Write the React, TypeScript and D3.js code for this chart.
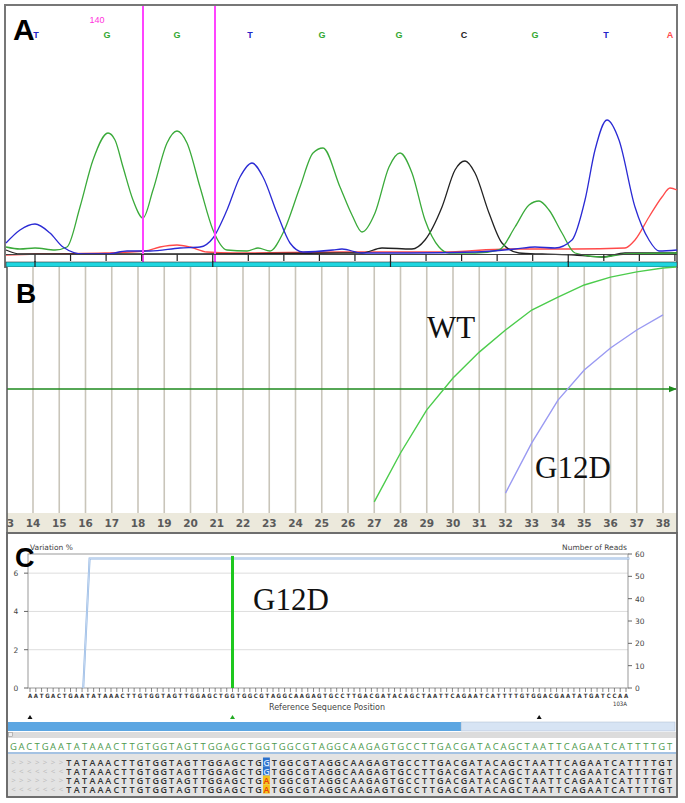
import * as d3 from "d3";

// ---------- panel A: Sanger chromatogram, [scan, signal]
const traceG: [number, number][] = [
  [0, 6], [14, 4], [29, 5], [49, 3], [61, 6], [74, 46], [87, 93], [102, 120], [109, 113],
  [117, 86], [127, 53], [137, 35], [147, 63], [161, 110], [171, 122], [181, 110], [194, 66],
  [207, 23], [221, 3], [241, 2], [252, 5], [264, 2], [277, 20], [294, 66], [307, 100],
  [317, 105], [334, 66], [346, 38], [356, 21], [369, 40], [383, 86], [394, 100], [406, 80],
  [419, 33], [433, 6], [443, 0], [469, 0], [493, 3], [509, 26], [523, 48], [533, 52],
  [543, 43], [556, 20], [569, 0], [596, -4], [619, -1], [671, 0],
];
const traceT: [number, number][] = [
  [0, 10], [14, 23], [29, 29], [44, 20], [57, 6], [77, -1], [101, -1], [121, 2], [144, 2],
  [174, 5], [194, 6], [207, 15], [221, 43], [234, 76], [246, 90], [257, 76], [271, 40],
  [284, 10], [297, 1], [327, 3], [336, 4], [356, 0], [403, 0], [469, 1], [509, 4], [529, 6],
  [549, 5], [566, 13], [579, 53], [589, 103], [601, 133], [613, 113], [629, 46], [643, 13],
  [653, 2], [671, 3],
];
const traceC: [number, number][] = [
  [0, 3], [14, -1], [194, -1], [336, 0], [356, 0], [376, 5], [406, 4], [419, 13], [436, 46],
  [449, 83], [459, 92], [469, 80], [483, 40], [496, 10], [513, 0], [536, -1], [569, -2],
  [596, -4], [619, 0], [671, 0],
];
const traceA: [number, number][] = [
  [0, -2], [32, -1], [99, 0], [139, 2], [154, 6], [171, 8], [184, 6], [201, 1], [227, 0],
  [336, 1], [436, 1], [503, 4], [569, 4], [619, 5], [629, 13], [643, 36], [656, 56],
  [664, 65], [671, 63],
];
const baseCalls = ["T", "G", "G", "T", "G", "G", "C", "G", "T", "A"];
const baseScans = [30, 101, 171, 244, 316, 393, 458, 529, 600, 664];
const markerScans = [137, 209];
const markerLabel = "140";

// ---------- panel B: real-time PCR amplification
const cycleLabels = [13, 14, 15, 16, 17, 18, 19, 20, 21, 22, 23, 24, 25, 26, 27, 28, 29, 30, 31, 32, 33, 34, 35, 36, 37, 38];
const wtCycles = [27, 28, 29, 30, 31, 32, 33, 34, 35, 36, 37, 38, 38.5];
const wtValues = [4.5, 24.4, 41.9, 54.9, 65.4, 74.4, 82.5, 87.8, 92.7, 95.9, 98.0, 99.6, 100];
const mutCycles = [32, 33, 34, 35, 36, 37, 38];
const mutValues = [8.1, 28.5, 45.9, 58.1, 67.1, 74.4, 80.5];
const threshold = 50.4;

// ---------- panel C: NGS variant view
const refSeq = "AATGACTGAATATAAACTTGTGGTAGTTGGAGCTGGTGGCGTAGGCAAGAGTGCCTTGACGATACAGCTAATTCAGAATCATTTTGTGGACGAATATGATCCAA";
const leftTicks = [0, 2, 4, 6];
const rightTicks = [0, 10, 20, 30, 40, 50, 60];
const readsPos = [9.2, 10.3, 103.6];
const readsVal = [0, 58, 58];
const variantPos = 35;
const variantPct = 6.9;
const markerPos = [0, 35, 88];
const markerCols = ["#111", "#2a2", "#111"];
const overviewSplit = 74.5;
const alignRef = "GACTGAATATAAACTTGTGGTAGTTGGAGCTGGTGGCGTAGGCAAGAGTGCCTTGACGATACAGCTAATTCAGAATCATTTTGT";
const readStart = 7;
const readStrands = [">", "<", ">", "<"];
const readCalls = ["G", "G", "A", "A"];
const mutIndex = 32;

const baseColor: Record<string, string> = { G: "#33a833", T: "#2323c8", C: "#222", A: "#ff4a4a" };

export default function App() {
  // A
  const xA = d3.scaleLinear().domain([0, 671]).range([6, 677]);
  const yA = d3.scaleLinear().domain([0, 240]).range([253, 13]);
  const lineA = d3.line<[number, number]>().x(d => xA(d[0])).y(d => yA(d[1])).curve(d3.curveMonotoneX);
  const tickScans = d3.range(0, 19).map(k => 29 + k * 35.55);

  // B
  const xB = d3.scaleLinear().domain([13, 38]).range([6.75, 663]);
  const yB = d3.scaleLinear().domain([0, 100]).range([513, 267]);
  const lineB = d3.line<number>().x((_, i) => xB(wtCycles[i])).y(d => yB(d));
  const lineM = d3.line<number>().x((_, i) => xB(mutCycles[i])).y(d => yB(d));

  // C
  const xC = d3.scaleLinear().domain([0, 103]).range([30, 626]);
  const yL = d3.scaleLinear().domain([0, 7]).range([688, 554]);
  const yR = d3.scaleLinear().domain([0, 60]).range([688, 554]);
  const lineR = d3.line<number>().x((_, i) => xC(readsPos[i])).y(d => yR(d));
  const xR = d3.scaleLinear().domain([0, 83]).range([13.5, 669.5]);
  const rowY = [762, 771, 780, 789];
  const colW = xR(1) - xR(0);

  const sans = "'Liberation Sans', Arial, sans-serif";
  const narrow = "'Liberation Sans Narrow', 'DejaVu Sans Condensed', sans-serif";
  const dv = "'DejaVu Sans', sans-serif";
  const os = "'Open Sans', 'DejaVu Sans', sans-serif";
  const serif = "'Liberation Serif', 'Times New Roman', serif";

  return (
    <svg width={685} height={803} style={{ position: "absolute", left: 0, top: 0, background: "#fff" }}>
      <defs>
        <clipPath id="clipB"><rect x={7} y={266} width={670} height={268} /></clipPath>
        <marker id="arr" viewBox="0 0 10 10" refX={9} refY={5} markerWidth={5} markerHeight={5} orient="auto">
          <path d="M0,1 L10,5 L0,9 Z" fill="#1e8a1e" />
        </marker>
      </defs>

      {/* ===== Panel A ===== */}
      <rect x={5} y={5} width={672} height={262} fill="#fff" stroke="#777" strokeWidth={2} />
      {baseCalls.map((b, i) => (
        <text key={"b" + i} x={xA(baseScans[i])} y={38} textAnchor="middle" fontFamily={sans}
          fontWeight="bold" fontSize={9} fill={baseColor[b]}>{b}</text>
      ))}
      <text x={97} y={23} textAnchor="middle" fontFamily={sans} fontSize={9} fill="#ff33dd">{markerLabel}</text>
      <path d={lineA(traceA) || ""} fill="none" stroke="#ff4a4a" strokeWidth={1.3} />
      <path d={lineA(traceC) || ""} fill="none" stroke="#222" strokeWidth={1.3} />
      <path d={lineA(traceG) || ""} fill="none" stroke="#3aaa3a" strokeWidth={1.3} />
      <path d={lineA(traceT) || ""} fill="none" stroke="#2a2ad4" strokeWidth={1.3} />
      {markerScans.map((s, i) => (
        <line key={"m" + i} x1={xA(s)} x2={xA(s)} y1={6} y2={262} stroke="#ff44ff" strokeWidth={2} />
      ))}
      <line x1={6} x2={677} y1={254.5} y2={254.5} stroke="#444" strokeWidth={1} />
      {tickScans.map((s, k) => (
        <line key={"t" + k} x1={xA(s)} x2={xA(s)} y1={254.5} y2={k % 5 === 0 ? 267 : 261}
          stroke="#222" strokeWidth={1.2} />
      ))}
      <rect x={6} y={262} width={671} height={5} fill="#1fd6e0" stroke="#333" strokeWidth={0.6} />
      {tickScans.filter((_, k) => k % 5 === 0).map((s, k) => (
        <line key={"tl" + k} x1={xA(s)} x2={xA(s)} y1={261} y2={267} stroke="#222" strokeWidth={1.2} />
      ))}
      <text x={13} y={40} fontFamily={sans} fontWeight="bold" fontSize={30} fill="#000">A</text>

      {/* ===== Panel B ===== */}
      <rect x={7} y={267} width={670} height={246} fill="#fff" />
      <g clipPath="url(#clipB)">
        {cycleLabels.slice(1).map(c => (
          <line key={"g" + c} x1={xB(c)} x2={xB(c)} y1={267} y2={513} stroke="#c9c5ba" strokeWidth={1.6} />
        ))}
        <rect x={7} y={513} width={670} height={19} fill="#ece9dc" />
        {cycleLabels.map(c => (
          <text key={"c" + c} x={xB(c)} y={527} textAnchor="middle" fontFamily={dv} fontWeight="bold"
            fontSize={10.5} fill="#5a5a5a">{c}</text>
        ))}
      </g>
      <line x1={7} x2={676} y1={yB(threshold)} y2={yB(threshold)} stroke="#1e8a1e" strokeWidth={1.6} markerEnd="url(#arr)" />
      <path d={lineB(wtValues) || ""} fill="none" stroke="#4ccc4c" strokeWidth={1.4} clipPath="url(#clipB)" />
      <path d={lineM(mutValues) || ""} fill="none" stroke="#9a9af2" strokeWidth={1.4} />
      <text x={427} y={338} fontFamily={serif} fontSize={31} fill="#111">WT</text>
      <text x={535} y={478} fontFamily={serif} fontSize={31} fill="#111">G12D</text>
      <line x1={7} x2={7} y1={267} y2={533} stroke="#555" strokeWidth={1.5} />
      <line x1={677} x2={677} y1={267} y2={533} stroke="#555" strokeWidth={1.5} />
      <text x={16} y={303} fontFamily={sans} fontWeight="bold" fontSize={28} fill="#000">B</text>

      {/* ===== Panel C ===== */}
      <rect x={7} y={533} width={670} height={264} fill="#fff" stroke="#666" strokeWidth={1.5} />
      {leftTicks.slice(1).map(t => (
        <line key={"hg" + t} x1={28} x2={628} y1={yL(t)} y2={yL(t)} stroke="#ddd" strokeWidth={1} />
      ))}
      <rect x={28} y={554} width={600} height={134} fill="none" stroke="#999" strokeWidth={1} />
      {leftTicks.map(t => (
        <g key={"lt" + t}>
          <line x1={24} x2={28} y1={yL(t)} y2={yL(t)} stroke="#666" />
          <text x={16} y={yL(t) + 3} textAnchor="middle" fontFamily={dv} fontSize={7.5} fill="#444">{t}</text>
        </g>
      ))}
      {rightTicks.map(t => (
        <g key={"rt" + t}>
          <line x1={628} x2={632} y1={yR(t)} y2={yR(t)} stroke="#666" />
          <text x={635} y={yR(t) + 3} fontFamily={dv} fontSize={7.5} fill="#444">{t}</text>
        </g>
      ))}
      <text x={30} y={550} fontFamily={dv} fontSize={7.5} fill="#444">Variation %</text>
      <text x={627} y={550} textAnchor="end" fontFamily={dv} fontSize={7.5} fill="#444">Number of Reads</text>
      <path d={lineR(readsVal) || ""} fill="none" stroke="#8fb4e2" strokeWidth={2} />
      <path d={lineR(readsVal) || ""} fill="none" stroke="#e6eefa" strokeWidth={0.6} />
      <line x1={xC(variantPos)} x2={xC(variantPos)} y1={yL(0)} y2={yL(variantPct)} stroke="#1ec81e" strokeWidth={3} />
      {refSeq.split("").map((b, i) => (
        <g key={"s" + i}>
          <line x1={xC(i)} x2={xC(i)} y1={688} y2={692} stroke="#555" strokeWidth={0.7} />
          <text x={xC(i)} y={698} textAnchor="middle" fontFamily={narrow} fontWeight="bold" fontSize={6} fill="#333">{b}</text>
        </g>
      ))}
      <text x={620} y={706} textAnchor="middle" fontFamily={narrow} fontSize={6} fill="#333">103A</text>
      <text x={327} y={710} textAnchor="middle" fontFamily={dv} fontSize={8} fill="#444">Reference Sequence Position</text>
      <text x={253} y={610} fontFamily={serif} fontSize={31} fill="#111">G12D</text>
      <text x={15} y={567} fontFamily={sans} fontWeight="bold" fontSize={27} fill="#000">C</text>

      {markerPos.map((p, i) => (
        <path key={"mk" + i} d={`M${xC(p) - 2.5},${719} L${xC(p) + 2.5},${719} L${xC(p)},${715} Z`} fill={markerCols[i]} />
      ))}
      <rect x={8} y={722} width={xC(overviewSplit) - 8} height={9} fill="#5ca6e2" />
      <rect x={xC(overviewSplit)} y={722} width={675 - xC(overviewSplit)} height={9} fill="#d7e4f4" stroke="#aabbd0" strokeWidth={0.5} />
      <rect x={8} y={732} width={668} height={6} fill="#dcdcdc" />
      <rect x={8.5} y={732.5} width={4} height={4} fill="#eee" stroke="#888" strokeWidth={0.5} />
      <rect x={8} y={739} width={668} height={13} fill="#fff" />
      {alignRef.split("").map((b, i) => (
        <text key={"r" + i} x={xR(i)} y={750} textAnchor="middle" fontFamily={os} fontSize={9.5} fill="#4e9a4e">{b}</text>
      ))}
      <line x1={8} x2={676} y1={753} y2={753} stroke="#4a86c8" strokeWidth={1.2} />
      <rect x={8} y={754} width={668} height={42} fill="#e3e3e3" />
      {readStrands.map((s, r) => (
        <g key={"rd" + r}>
          <rect x={xR(mutIndex) - colW / 2 + 0.5} y={rowY[r] - 4.5} width={colW - 1} height={9}
            fill={readCalls[r] === "G" ? "#2a70cc" : "#f3c21a"} />
          {alignRef.split("").map((b, i) => {
            if (i < readStart) {
              return <text key={i} x={xR(i)} y={rowY[r] + 3} textAnchor="middle" fontFamily={os} fontSize={8} fill="#bbb">{s}</text>;
            }
            const isMut = i === mutIndex;
            const ch = isMut ? readCalls[r] : b;
            const fill = isMut ? (readCalls[r] === "G" ? "#cfe3ff" : "#e8400a") : "#333";
            return <text key={i} x={xR(i)} y={rowY[r] + 3.5} textAnchor="middle" fontFamily={os} fontWeight={600} fontSize={9} fill={fill}>{ch}</text>;
          })}
        </g>
      ))}
      <rect x={7} y={533} width={670} height={264} fill="none" stroke="#666" strokeWidth={1.5} />
    </svg>
  );
}
